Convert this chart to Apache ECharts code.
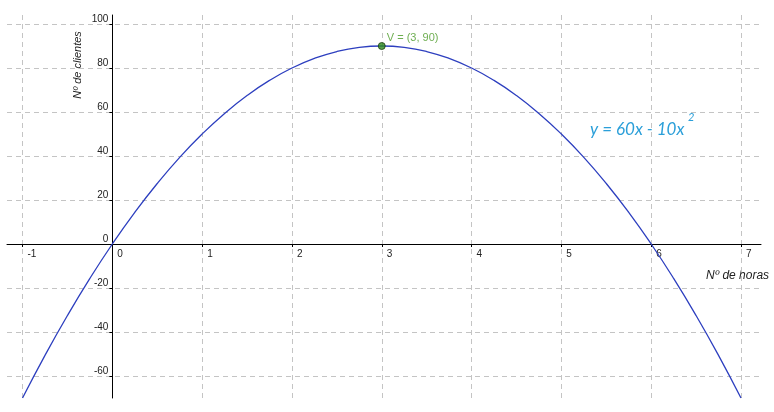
<!DOCTYPE html>
<html><head><meta charset="utf-8">
<script src="https://cdn.jsdelivr.net/npm/echarts@6/dist/echarts.min.js"></script>
<style>html,body{margin:0;padding:0;background:#fff}#c{width:774px;height:412px}</style>
</head><body><div id="c"></div>
<script>
const hours = [-1,-0.75,-0.5,-0.25,0,0.25,0.5,0.75,1,1.25,1.5,1.75,2,2.25,2.5,2.75,3,3.25,3.5,3.75,4,4.25,4.5,4.75,5,5.25,5.5,5.75,6,6.25,6.5,6.75,7];
const clients = [-70,-50.625,-32.5,-15.625,0,14.375,27.5,39.375,50,59.375,67.5,74.375,80,84.375,87.5,89.375,90,89.375,87.5,84.375,80,74.375,67.5,59.375,50,39.375,27.5,14.375,0,-15.625,-32.5,-50.625,-70];
const xTicks = [-1,0,1,2,3,4,5,6,7];
const yTicks = [-60,-40,-20,0,20,40,60,80,100];
const vertex = [3, 90];
const vertexLabel = 'V = (3, 90)';
const xName = 'Nº de horas';
const yName = 'Nº de clientes';
const equationText = 'y = 60x - 10x';
const equationExp = '2';

const xMin = -1.173, xMax = 7.223, yMin = -70, yMax = 104.1;
const G = {left:7, right:13, top:15, bottom:14};
const W = 774, H = 412;
const gw = W - G.left - G.right, gh = H - G.top - G.bottom;
// axis placement offsets so that the axes cross at the origin (derived from scale extents)
const yAxisOffset = -(0 - xMin) / (xMax - xMin) * gw;
const xAxisOffset = -(0 - yMin) / (yMax - yMin) * gh;

const chart = echarts.init(document.getElementById('c'), null, {renderer:'canvas'});
const gridStyle = {show:true, lineStyle:{color:'#c4c4c4', type:[5,4], width:1}};
chart.setOption({
  animation:false,
  backgroundColor:'#fff',
  grid:{left:G.left, right:G.right, top:G.top, bottom:G.bottom, containLabel:false, outerBoundsMode:'none'},
  xAxis:{type:'value', min:xMin, max:xMax, position:'bottom', offset:xAxisOffset,
    axisLine:{onZero:false, lineStyle:{color:'#000', width:1}},
    axisTick:{show:true, length:3, customValues:xTicks, lineStyle:{color:'#000'}},
    axisLabel:{customValues:xTicks, color:'#222', fontSize:10, fontFamily:'Liberation Sans', align:'left', padding:[0,0,0,5], margin:5},
    splitLine:gridStyle},
  yAxis:{type:'value', min:yMin, max:yMax, position:'left', offset:yAxisOffset,
    axisLine:{onZero:false, lineStyle:{color:'#000', width:1}},
    axisTick:{show:true, length:3, customValues:yTicks, lineStyle:{color:'#000'}},
    axisLabel:{customValues:yTicks, color:'#222', fontSize:10, fontFamily:'Liberation Sans', verticalAlign:'bottom', margin:4},
    splitLine:gridStyle},
  series:[
    {type:'line', data:hours.map((h,i)=>[h,clients[i]]), smooth:true, showSymbol:false,
     lineStyle:{color:'#2d3fbf', width:1.3}, silent:true, z:3},
    {type:'scatter', data:[vertex], symbolSize:7,
     itemStyle:{color:'#2e8b1e', borderColor:'#1a3d10', borderWidth:1},
     label:{show:true, formatter:vertexLabel, position:'right', distance:1, offset:[0,-8], color:'#4a9a26', fontSize:11, fontFamily:'Liberation Sans'}, z:4}
  ],
  graphic:[
    {type:'text', x:78, y:65, rotation:Math.PI/2, style:{text:yName, font:'italic 11px "Liberation Sans"', fill:'#222', align:'center', verticalAlign:'middle'}},
    {type:'text', x:706, y:276, style:{text:xName, font:'italic 12px "Liberation Sans"', fill:'#222', align:'left', verticalAlign:'middle'}},
    {type:'text', x:590, y:130, style:{text:equationText, font:'italic 17px Lato', fill:'#2b9fd9', align:'left', verticalAlign:'middle'}},
    {type:'text', x:688, y:117, style:{text:equationExp, font:'italic 11px Lato', fill:'#2b9fd9', align:'left', verticalAlign:'middle'}}
  ]
});
</script></body></html>
